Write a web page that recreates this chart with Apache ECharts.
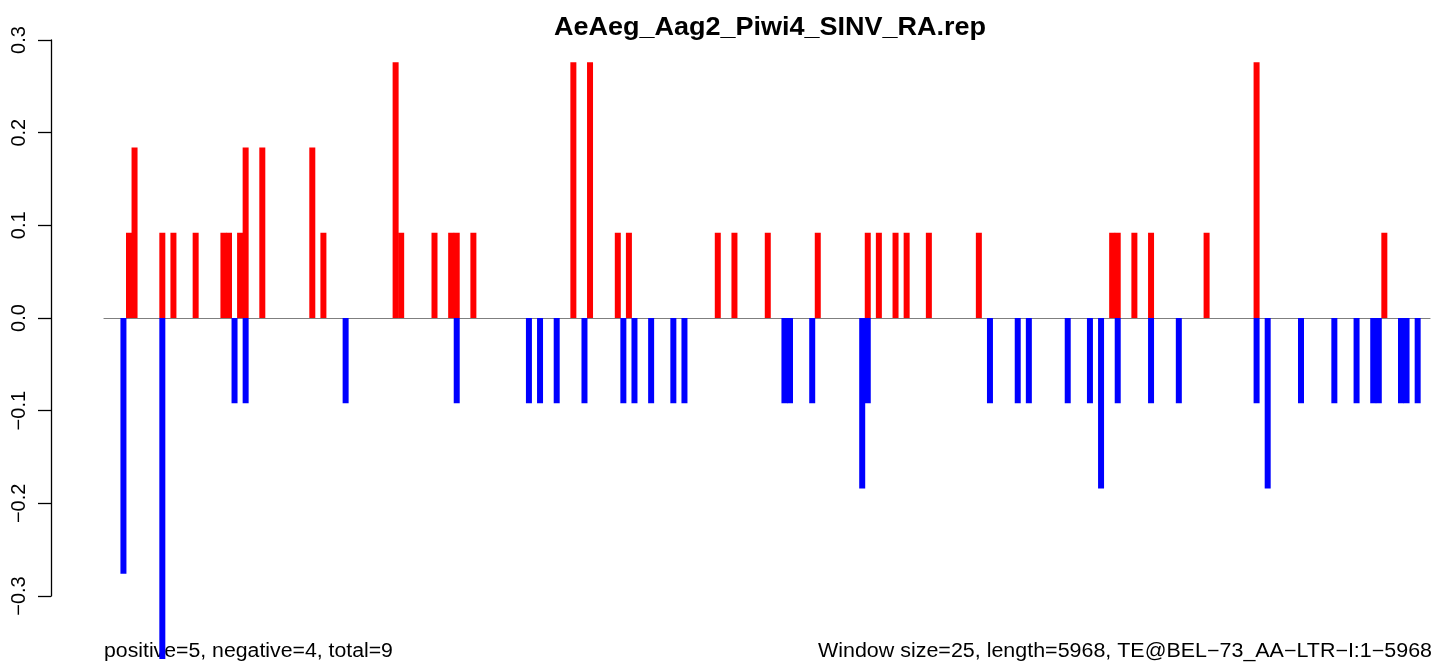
<!DOCTYPE html>
<html><head><meta charset="utf-8">
<script src="https://cdn.jsdelivr.net/npm/echarts@6/dist/echarts.min.js"></script>
<style>html,body{margin:0;padding:0;background:#fff}#c{width:1433px;height:666px}</style>
</head><body><div id="c"></div>
<script>
const titleText = 'AeAeg_Aag2_Piwi4_SINV_RA.rep';
const leftNote = 'positive=5, negative=4, total=9';
const rightNote = 'Window size=25, length=5968, TE@BEL\u221273_AA\u2212LTR\u2212I:1\u22125968';
const windowSize = 25;
const seqLength = 5968;
const yTicks = [-0.3, -0.2, -0.1, 0.0, 0.1, 0.2, 0.3];
// window start positions (nt) and values
const posStart = [100,125,250,300,400,525,550,600,625,700,925,975,1300,1325,1475,1550,1575,1650,2100,2175,2300,2350,2750,2825,2975,3200,3425,3475,3550,3600,3700,3925,4525,4550,4625,4700,4950,5175,5750];
const posVal = [0.092,0.184,0.092,0.092,0.092,0.092,0.092,0.092,0.184,0.184,0.184,0.092,0.276,0.092,0.092,0.092,0.092,0.092,0.276,0.276,0.092,0.092,0.092,0.092,0.092,0.092,0.092,0.092,0.092,0.092,0.092,0.092,0.092,0.092,0.092,0.092,0.092,0.276,0.092];
const negStart = [75,250,575,625,1075,1575,1900,1950,2025,2150,2325,2375,2450,2550,2600,3050,3075,3175,3400,3425,3975,4100,4150,4325,4425,4475,4550,4700,4825,5175,5225,5375,5525,5625,5700,5725,5825,5850,5900];
const negVal = [-0.276,-0.368,-0.092,-0.092,-0.092,-0.092,-0.092,-0.092,-0.092,-0.092,-0.092,-0.092,-0.092,-0.092,-0.092,-0.092,-0.092,-0.092,-0.184,-0.092,-0.092,-0.092,-0.092,-0.092,-0.092,-0.184,-0.092,-0.092,-0.092,-0.092,-0.184,-0.092,-0.092,-0.092,-0.092,-0.092,-0.092,-0.092,-0.092];

const font = '"Liberation Sans", Arial, Helvetica, sans-serif';
const toPairs = (s, v) => s.map((p, i) => [p + windowSize / 2, v[i]]);

const chart = echarts.init(document.getElementById('c'), null, {renderer: 'canvas'});
chart.setOption({
  animation: false,
  backgroundColor: '#fff',
  grid: {left: 104, right: 3, top: 40, bottom: 70, containLabel: false},
  xAxis: {
    type: 'value', min: 0, max: seqLength,
    axisLine: {show: true, onZero: true, lineStyle: {color: '#7f7f7f', width: 1.2}},
    axisTick: {show: false}, axisLabel: {show: false}, splitLine: {show: false}
  },
  yAxis: {
    type: 'value', min: yTicks[0], max: yTicks[yTicks.length - 1], interval: 0.1,
    offset: 53,
    axisLine: {show: true, onZero: false, lineStyle: {color: '#000', width: 1.3}},
    axisTick: {show: true, length: 13, lineStyle: {color: '#000', width: 1.3}},
    axisLabel: {
      rotate: 90, margin: 22, color: '#000', fontSize: 20, fontFamily: font,
      formatter: v => (v < 0 ? '\u2212' : '') + Math.abs(v).toFixed(1)
    },
    splitLine: {show: false}
  },
  series: [
    {type: 'bar', data: toPairs(posStart, posVal), barWidth: 6, barGap: '-100%', clip: false,
     itemStyle: {color: '#ff0000'}, z: 2},
    {type: 'bar', data: toPairs(negStart, negVal), barWidth: 6, barGap: '-100%', clip: false,
     itemStyle: {color: '#0000ff'}, z: 2}
  ],
  graphic: [
    {type: 'text', x: 770, y: 28, scaleX: 1.08, style: {text: titleText, font: 'bold 25px ' + font, fill: '#000', textAlign: 'center', textVerticalAlign: 'middle'}},
    {type: 'text', x: 104, y: 652, scaleX: 1.09, style: {text: leftNote, font: '19.5px ' + font, fill: '#000', textAlign: 'left', textVerticalAlign: 'middle'}},
    {type: 'text', x: 1432, y: 652, scaleX: 1.1, style: {text: rightNote, font: '19.5px ' + font, fill: '#000', textAlign: 'right', textVerticalAlign: 'middle'}}
  ]
});
</script></body></html>
